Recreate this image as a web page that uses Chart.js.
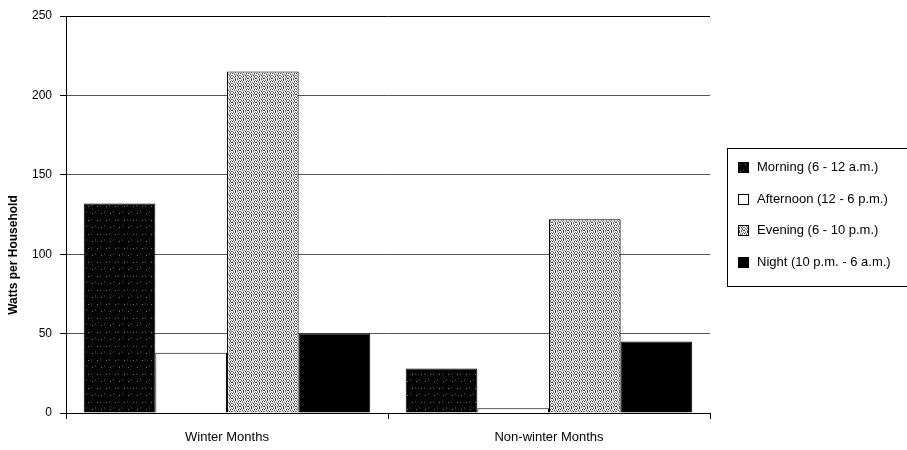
<!DOCTYPE html>
<html>
<head>
<meta charset="utf-8">
<script src="https://cdn.jsdelivr.net/npm/chart.js@4/dist/chart.umd.min.js"></script>
<style>
  html, body { margin: 0; padding: 0; background: #fff; }
  #wrap { width: 907px; height: 450px; }
</style>
</head>
<body>
<div id="wrap"><canvas id="c" width="907" height="450"></canvas></div>
<script>
// Average load per household by time of day, winter vs. rest of year
const categories = ['Winter Months', 'Non-winter Months'];
const seriesNames = ['Morning (6 - 12 a.m.)', 'Afternoon (12 - 6 p.m.)', 'Evening (6 - 10 p.m.)', 'Night (10 p.m. - 6 a.m.)'];
const morning = [132, 28];
const afternoon = [38, 3];
const evening = [215, 122];
const night = [50, 45];
const yTicks = [0, 50, 100, 150, 200, 250];
const yTitle = 'Watts per Household';

const FONT = '"Liberation Sans", Arial, Helvetica, sans-serif';

// Tiled fills that imitate the printed halftone screens
function makePattern(w, h, painter) {
  const cv = document.createElement('canvas');
  cv.width = w; cv.height = h;
  const g = cv.getContext('2d');
  painter(g);
  return g.createPattern(cv, 'repeat');
}

const darkFill = makePattern(9, 14, g => {
  g.fillStyle = '#040404';
  g.fillRect(0, 0, 9, 14);
  g.fillStyle = '#777';
  g.fillRect(2, 3, 1, 1);
  g.fillRect(7, 10, 1, 1);
  g.fillStyle = '#333';
  g.fillRect(5, 1, 1, 2);
  g.fillRect(1, 9, 1, 2);
});

// 8x8 dither cell: digits are grey levels 0 (black) .. 9 (white)
const stippleCell = [
  '94928795',
  '29697929',
  '97394859',
  '49859293',
  '93929749',
  '69497938',
  '29839592',
  '95929479'
];
const stippleFill = makePattern(8, 8, g => {
  stippleCell.forEach((row, y) => {
    for (let x = 0; x < 8; x++) {
      const v = Math.round(parseInt(row[x], 10) / 9 * 255);
      g.fillStyle = `rgb(${v},${v},${v})`;
      g.fillRect(x, y, 1, 1);
    }
  });
});

const fills = [darkFill, '#ffffff', stippleFill, '#000000'];
const values = [morning, afternoon, evening, night];

const datasets = seriesNames.map((name, i) => ({
  label: name,
  data: values[i],
  backgroundColor: fills[i],
  borderColor: '#000',
  borderWidth: 1,
  categoryPercentage: 0.89,
  barPercentage: 1.0
}));

// Boxed legend on the right side and the rotated value-axis title
const decorations = {
  id: 'decorations',
  afterDraw(chart) {
    const ctx = chart.ctx;
    ctx.save();
    ctx.strokeStyle = '#000';
    ctx.lineWidth = 1;
    ctx.strokeRect(727.5, 148.5, 190, 138);
    ctx.font = '13px ' + FONT;
    ctx.textBaseline = 'middle';
    ctx.textAlign = 'left';
    const rows = [167, 199, 230, 262];
    chart.data.datasets.forEach((ds, i) => {
      const y = rows[i];
      ctx.fillStyle = ds.backgroundColor;
      ctx.fillRect(738, y - 5, 11, 11);
      ctx.strokeStyle = '#000';
      ctx.strokeRect(738.5, y - 4.5, 10, 10);
      ctx.fillStyle = '#000';
      ctx.fillText(ds.label, 757, y + 0.5);
    });

    ctx.translate(14, 255);
    ctx.rotate(-Math.PI / 2);
    ctx.font = 'bold 12px ' + FONT;
    ctx.textAlign = 'center';
    ctx.fillStyle = '#000';
    ctx.fillText(yTitle, 0, 0);
    ctx.restore();
  }
};

new Chart(document.getElementById('c'), {
  type: 'bar',
  data: { labels: categories, datasets },
  options: {
    responsive: false,
    animation: false,
    layout: { padding: { top: 16, right: 197, bottom: 0, left: 0 } },
    plugins: {
      legend: { display: false },
      tooltip: { enabled: false }
    },
    scales: {
      x: {
        afterFit(scale) { scale.height = 37; },
        border: { display: true, color: '#000', width: 1 },
        grid: {
          offset: true,
          drawOnChartArea: false,
          drawTicks: true,
          tickLength: 6,
          color: '#000'
        },
        ticks: {
          color: '#000',
          padding: 11,
          font: { family: FONT, size: 13 }
        }
      },
      y: {
        min: 0,
        max: 250,
        afterFit(scale) { scale.width = 66; },
        afterBuildTicks(scale) { scale.ticks = yTicks.map(v => ({ value: v })); },
        border: { display: true, color: '#000', width: 1 },
        grid: {
          drawTicks: true,
          tickLength: 6,
          color(ctx) { return ctx.tick && ctx.tick.value === 250 ? '#000' : '#555'; },
          tickColor: '#000'
        },
        ticks: {
          color: '#000',
          padding: 8,
          font: { family: FONT, size: 12 }
        }
      }
    }
  },
  plugins: [decorations]
});
</script>
</body>
</html>
